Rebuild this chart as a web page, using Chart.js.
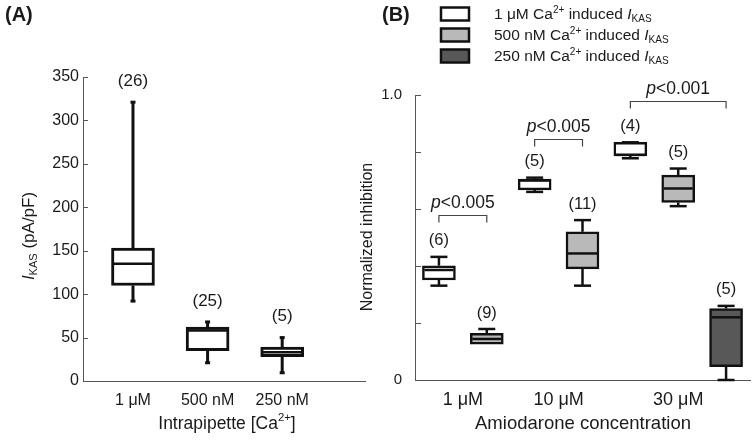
<!DOCTYPE html>
<html><head><meta charset="utf-8">
<script src="https://cdn.jsdelivr.net/npm/chart.js@4.4.1/dist/chart.umd.min.js"></script>
<style>
html,body{margin:0;padding:0;background:#fff;width:756px;height:442px;overflow:hidden;position:relative}
canvas{position:absolute;top:0}
#cA{left:0}
#cB{left:355px}
</style></head><body>
<canvas id="cA" width="370" height="442"></canvas>
<canvas id="cB" width="401" height="442"></canvas>
<script>
// ---------- Panel A data ----------
const catsA = ['1 μM', '500 nM', '250 nM'];
const minA = [92, 21, 9.5];
const q1A  = [110, 35, 28];
const medA = [135, 58, 33];
const q3A  = [153, 62, 39];
const maxA = [321, 68, 50];
const nA   = [26, 25, 5];
const yTicksA = [0, 50, 100, 150, 200, 250, 300, 350];

// ---------- Panel B data ----------
const concB = ['1 μM', '10 μM', '30 μM'];
const seriesB = ['1 μM', '500 nM', '250 nM'];
const colorsB = ['#ffffff', '#b9b9b9', '#585858'];
const minB = [[0.331, 0.660, 0.778], [0.126, 0.331, 0.610], [null, null, 0.0]];
const q1B  = [[0.351, 0.667, 0.786], [0.126, 0.390, 0.623], [null, null, 0.047]];
const medB = [[0.386, 0.700, 0.790], [0.144, 0.444, 0.672], [null, null, 0.220]];
const q3B  = [[0.401, 0.705, 0.834], [0.164, 0.520, 0.719], [null, null, 0.251]];
const maxB = [[0.432, 0.710, 0.834], [0.126 + 0.053, 0.561, 0.742], [null, null, 0.260]];
const nB   = [[6, 5, 4], [9, 11, 5], [null, null, 5]];
const yTicksB = [0, 0.2, 0.4, 0.6, 0.8, 1.0];
const yTickLabelsB = ['0', '', '', '', '', '1.0'];
// significance brackets
const brGroup = [0, 1, 2];
const brFrom  = [0, 0, 0];
const brTo    = [1, 1, 2];
const brY     = [0.58, 0.845, 0.98];
const brText  = ['<0.005', '<0.005', '<0.001'];

const FAM = '"Liberation Sans", Arial, Helvetica, sans-serif';
const TXT = '#1a1a1a';
Chart.defaults.font.family = FAM;
Chart.defaults.color = TXT;

function fontOf(p, size) {
  const s = (p.sub || p.sup) ? size * 0.65 : size;
  return (p.italic ? 'italic ' : '') + (p.bold ? 'bold ' : '') + s + 'px ' + FAM;
}
function drawRich(ctx, parts, x, y, size, align) {
  ctx.save();
  ctx.textBaseline = 'middle';
  ctx.textAlign = 'left';
  let w = 0;
  parts.forEach(p => { ctx.font = fontOf(p, size); w += ctx.measureText(p.t).width; });
  let cx = align === 'center' ? x - w / 2 : x;
  parts.forEach(p => {
    ctx.font = fontOf(p, size);
    const dy = p.sub ? size * 0.3 : (p.sup ? -size * 0.33 : 0);
    ctx.fillStyle = TXT;
    ctx.fillText(p.t, cx, y + dy);
    cx += ctx.measureText(p.t).width;
  });
  ctx.restore();
}
function line(ctx, x1, y1, x2, y2) { ctx.beginPath(); ctx.moveTo(x1, y1); ctx.lineTo(x2, y2); ctx.stroke(); }

function drawInwardTicks(chart, len) {
  const ctx = chart.ctx, ys = chart.scales.y, left = chart.chartArea.left;
  ctx.save(); ctx.strokeStyle = '#555'; ctx.lineWidth = 1;
  ys.ticks.forEach(t => { const py = Math.round(ys.getPixelForValue(t.value)) + 0.5; line(ctx, left, py, left + len, py); });
  ctx.restore();
}
function drawBoxes(chart, items, o) {
  const ctx = chart.ctx, xs = chart.scales.x, ys = chart.scales.y;
  ctx.save();
  ctx.strokeStyle = '#111';
  items.forEach(it => {
    const px = xs.getPixelForValue(it.x);
    const pMin = ys.getPixelForValue(it.min), pQ1 = ys.getPixelForValue(it.q1);
    const pMed = ys.getPixelForValue(it.med), pQ3 = ys.getPixelForValue(it.q3);
    const pMax = ys.getPixelForValue(it.max);
    ctx.lineWidth = o.wl;
    if (pQ3 - pMax > 0.5) line(ctx, px, pQ3, px, pMax);
    if (pMin - pQ1 > 0.5) line(ctx, px, pQ1, px, pMin);
    ctx.lineWidth = o.capLw;
    line(ctx, px - o.capW / 2, pMax, px + o.capW / 2, pMax);
    if (pMin - pQ1 > 0.5) line(ctx, px - o.capW / 2, pMin, px + o.capW / 2, pMin);
    ctx.lineWidth = o.medLw;
    line(ctx, px - o.bw / 2 + 2, pMed, px + o.bw / 2 - 2, pMed);
    drawRich(ctx, [{t: '(' + it.n + ')'}], px, pMax - o.nOff, o.nSize, 'center');
  });
  ctx.restore();
}

// ---------- Chart A ----------
const itemsA = catsA.map((c, i) => ({x: i + 1, min: minA[i], q1: q1A[i], med: medA[i], q3: q3A[i], max: maxA[i], n: nA[i]}));
const plugA = {
  id: 'boxA',
  afterDraw(chart) {
    const ctx = chart.ctx;
    drawInwardTicks(chart, 5);
    drawBoxes(chart, itemsA, {wl: 3, capLw: 3, capW: 5, medLw: 2.5, bw: 43, nOff: 21, nSize: 17});
    drawRich(ctx, [{t: '(A)', bold: true}], 5, 15, 20, 'left');
    drawRich(ctx, [{t: 'Intrapipette [Ca'}, {t: '2+', sup: true}, {t: ']'}], 227, 424, 17.5, 'center');
    ctx.save(); ctx.translate(29, 236); ctx.rotate(-Math.PI / 2);
    drawRich(ctx, [{t: 'I', italic: true}, {t: 'KAS', sub: true}, {t: ' (pA/pF)'}], 0, 0, 17, 'center');
    ctx.restore();
  }
};
new Chart(document.getElementById('cA'), {
  type: 'bar',
  data: {datasets: [{
    data: itemsA.map(it => ({x: it.x, y: [it.q1, it.q3]})),
    backgroundColor: '#ffffff', borderColor: '#111', borderWidth: 3, borderSkipped: false,
    barThickness: 43, grouped: false
  }]},
  options: {
    responsive: false, animation: false,
    layout: {padding: {top: 77, right: 5, left: 0, bottom: 0}},
    plugins: {legend: {display: false}, tooltip: {enabled: false}},
    scales: {
      x: {type: 'linear', min: 0.33, max: 4.11, offset: false,
        grid: {display: false, drawTicks: false}, border: {display: true, color: '#555', width: 1},
        afterBuildTicks: sc => { sc.ticks = catsA.map((c, i) => ({value: i + 1})); },
        ticks: {callback: (v, i) => catsA[i], padding: 10, font: {size: 16}, maxRotation: 0, autoSkip: false, color: TXT},
        afterFit: sc => { sc.height = 61; }},
      y: {type: 'linear', min: 0, max: 350,
        grid: {display: false, drawTicks: false}, border: {display: true, color: '#555', width: 1},
        afterBuildTicks: sc => { sc.ticks = yTicksA.map(v => ({value: v})); },
        ticks: {callback: (v, i) => String(yTicksA[i]), padding: 4, font: {size: 16}, color: TXT},
        afterFit: sc => { sc.width = 83; }}
    }
  },
  plugins: [plugA]
});

// ---------- Chart B ----------
const slotsB = seriesB.map(() => []);
const groupCenters = [];
let slot = 0;
concB.forEach((c, g) => {
  const used = [];
  seriesB.forEach((s, k) => { if (medB[k][g] != null) { slot++; slotsB[k][g] = slot; used.push(slot); } });
  groupCenters.push(used.reduce((a, b) => a + b, 0) / used.length);
});
const itemsB = [];
seriesB.forEach((s, k) => concB.forEach((c, g) => {
  if (medB[k][g] != null) itemsB.push({x: slotsB[k][g], min: minB[k][g], q1: q1B[k][g], med: medB[k][g], q3: q3B[k][g], max: maxB[k][g], n: nB[k][g]});
}));
const plugB = {
  id: 'boxB',
  afterDraw(chart) {
    const ctx = chart.ctx, xs = chart.scales.x, ys = chart.scales.y;
    drawInwardTicks(chart, 6);
    drawBoxes(chart, itemsB, {wl: 2.5, capLw: 2.5, capW: 17, medLw: 2.5, bw: 33, nOff: 16, nSize: 16.5});
    // brackets
    ctx.save(); ctx.strokeStyle = '#444'; ctx.lineWidth = 1.2;
    brGroup.forEach((g, i) => {
      const x1 = xs.getPixelForValue(slotsB[brFrom[i]][g]);
      const x2 = xs.getPixelForValue(slotsB[brTo[i]][g]);
      const py = Math.round(ys.getPixelForValue(brY[i])) + 0.5;
      ctx.beginPath(); ctx.moveTo(x1, py + 7); ctx.lineTo(x1, py); ctx.lineTo(x2, py); ctx.lineTo(x2, py + 7); ctx.stroke();
      drawRich(ctx, [{t: 'p', italic: true}, {t: brText[i]}], (x1 + x2) / 2, py - 12.5, 17.5, 'center');
    });
    ctx.restore();
    // legend
    ctx.save();
    seriesB.forEach((s, k) => {
      const ry = 15 + 21 * k;
      ctx.fillStyle = colorsB[k]; ctx.strokeStyle = '#111'; ctx.lineWidth = 2.5;
      ctx.fillRect(86, ry - 7.5, 28, 13); ctx.strokeRect(86, ry - 7.5, 28, 13);
      drawRich(ctx, [{t: s + ' Ca'}, {t: '2+', sup: true}, {t: ' induced '}, {t: 'I', italic: true}, {t: 'KAS', sub: true}], 139, ry, 15.5, 'left');
    });
    ctx.restore();
    drawRich(ctx, [{t: '(B)', bold: true}], 27, 15, 20, 'left');
    drawRich(ctx, [{t: 'Amiodarone concentration'}], 228, 424, 18.5, 'center');
    ctx.save(); ctx.translate(13, 237); ctx.rotate(-Math.PI / 2);
    drawRich(ctx, [{t: 'Normalized inhibition'}], 0, 0, 16, 'center');
    ctx.restore();
  }
};
new Chart(document.getElementById('cB'), {
  type: 'bar',
  data: {datasets: seriesB.map((s, k) => ({
    label: s,
    data: concB.map((c, g) => medB[k][g] != null ? {x: slotsB[k][g], y: [q1B[k][g], q3B[k][g]]} : null).filter(d => d),
    backgroundColor: colorsB[k], borderColor: '#111', borderWidth: 2.5, borderSkipped: false,
    barThickness: 33, grouped: false
  }))},
  options: {
    responsive: false, animation: false,
    layout: {padding: {top: 95, right: 6, left: 0, bottom: 0}},
    plugins: {legend: {display: false}, tooltip: {enabled: false}},
    scales: {
      x: {type: 'linear', min: 0.5, max: 7.5, offset: false,
        grid: {display: false, drawTicks: false}, border: {display: true, color: '#555', width: 1},
        afterBuildTicks: sc => { sc.ticks = groupCenters.map(v => ({value: v})); },
        ticks: {callback: (v, i) => concB[i], padding: 9, font: {size: 18}, maxRotation: 0, autoSkip: false, color: TXT},
        afterFit: sc => { sc.height = 62; }},
      y: {type: 'linear', min: 0, max: 1,
        grid: {display: false, drawTicks: false}, border: {display: true, color: '#555', width: 1},
        afterBuildTicks: sc => { sc.ticks = yTicksB.map(v => ({value: v})); },
        ticks: {callback: (v, i) => yTickLabelsB[i], padding: 13, font: {size: 15}, color: TXT},
        afterFit: sc => { sc.width = 60; }}
    }
  },
  plugins: [plugB]
});
</script>
</body></html>
